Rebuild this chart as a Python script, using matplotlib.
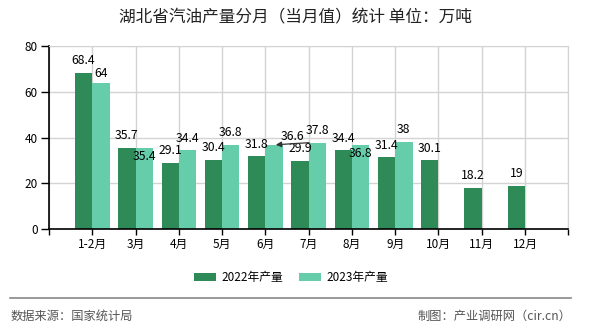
import matplotlib
matplotlib.use('Agg')
import matplotlib.pyplot as plt
from matplotlib.lines import Line2D
import numpy as np

plt.rcParams['font.family'] = ['Noto Sans CJK SC', 'DejaVu Sans']

months = ['1-2月', '3月', '4月', '5月', '6月', '7月', '8月', '9月', '10月', '11月', '12月']
prod_2022 = [68.4, 35.7, 29.1, 30.4, 31.8, 29.9, 34.4, 31.4, 30.1, 18.2, 19]
prod_2023 = [64, 35.4, 34.4, 36.8, 36.6, 37.8, 36.8, 38]
yticks = [0, 20, 40, 60, 80]

c22 = '#2e8b57'
c23 = '#66cdaa'
bw = 0.4

fig = plt.figure(figsize=(5.9, 3.3), dpi=100)
ax = fig.add_axes([49 / 590, 1 - 229.3 / 330, 519.3 / 590, 183.3 / 330])

x22 = np.arange(len(prod_2022))
x23 = np.arange(len(prod_2023))
b22 = ax.bar(x22 - bw / 2, prod_2022, bw, color=c22, label='2022年产量', zorder=2)
b23 = ax.bar(x23 + bw / 2, prod_2023, bw, color=c23, label='2023年产量', zorder=2)

# data labels (offsets in points, tuned to avoid overlaps like the original)
off22 = [8.5] * len(prod_2022)
off23 = [6.8, -5.8, 8.5, 9.0, None, 9.0, -5.8, 9.0]
lab_kw = dict(textcoords='offset points', ha='center', va='center', fontsize=8.8, color='black', zorder=4)
for xi, v, o in zip(x22, prod_2022, off22):
    ax.annotate(f'{v:g}', xy=(xi - bw / 2, v), xytext=(0, o), **lab_kw)
for xi, v, o in zip(x23, prod_2023, off23):
    if o is None:
        # leader-line label
        ax.annotate(f'{v:g}', xy=(xi + bw / 2, v), xytext=(13.5, 6.5), **lab_kw)
        ax.annotate('', xy=(xi + bw / 2 + 0.04, v + 0.3), xytext=(24, 1.5), textcoords='offset points',
                    arrowprops=dict(arrowstyle='-|>', lw=0.9, color='#333333', mutation_scale=8,
                                    shrinkA=0, shrinkB=0), zorder=4)
        continue
    ax.annotate(f'{v:g}', xy=(xi + bw / 2, v), xytext=(0, o), **lab_kw)

ax.set_xlim(-1, len(months))
ax.set_ylim(0, 80)
ax.set_yticks(yticks)
ax.set_xticks(np.arange(-1, len(months) + 1))
ax.set_xticklabels([''] + months + [''])
ax.tick_params(axis='x', length=4, width=1, pad=2, labelsize=8.5, colors='black')
ax.tick_params(axis='y', length=6, width=1, pad=2, labelsize=8.5, colors='black')

ax.grid(True, color='#d3d3d3', lw=1, zorder=0)
ax.set_axisbelow(True)
for s in ['top', 'right']:
    ax.spines[s].set_color('#d3d3d3')
for s in ['left', 'bottom']:
    ax.spines[s].set_color('black')
    ax.spines[s].set_linewidth(1.2)

fig.text(0.5, 1 - 18 / 330, '湖北省汽油产量分月（当月值）统计 单位：万吨', ha='center', va='center',
         fontsize=12, color='#222222')

fig.legend(handles=[b22, b23], loc='center', bbox_to_anchor=(291 / 590, 1 - 277.5 / 330), ncol=2,
           frameon=False, fontsize=8.5, handlelength=1.86, handleheight=0.72, handletextpad=0.48,
           columnspacing=1.35)

fig.add_artist(Line2D([10 / 590, 571 / 590], [1 - 298.3 / 330] * 2, color='#888888', lw=1.2,
                      transform=fig.transFigure))
fig.text(11 / 590, 1 - 316.7 / 330, '数据来源：国家统计局', ha='left', va='center', fontsize=8.8, color='#555555')
fig.text(571 / 590, 1 - 316.7 / 330, '制图：产业调研网（cir.cn）', ha='right', va='center', fontsize=8.8,
         color='#555555')

fig.savefig('out.png', dpi=100)
